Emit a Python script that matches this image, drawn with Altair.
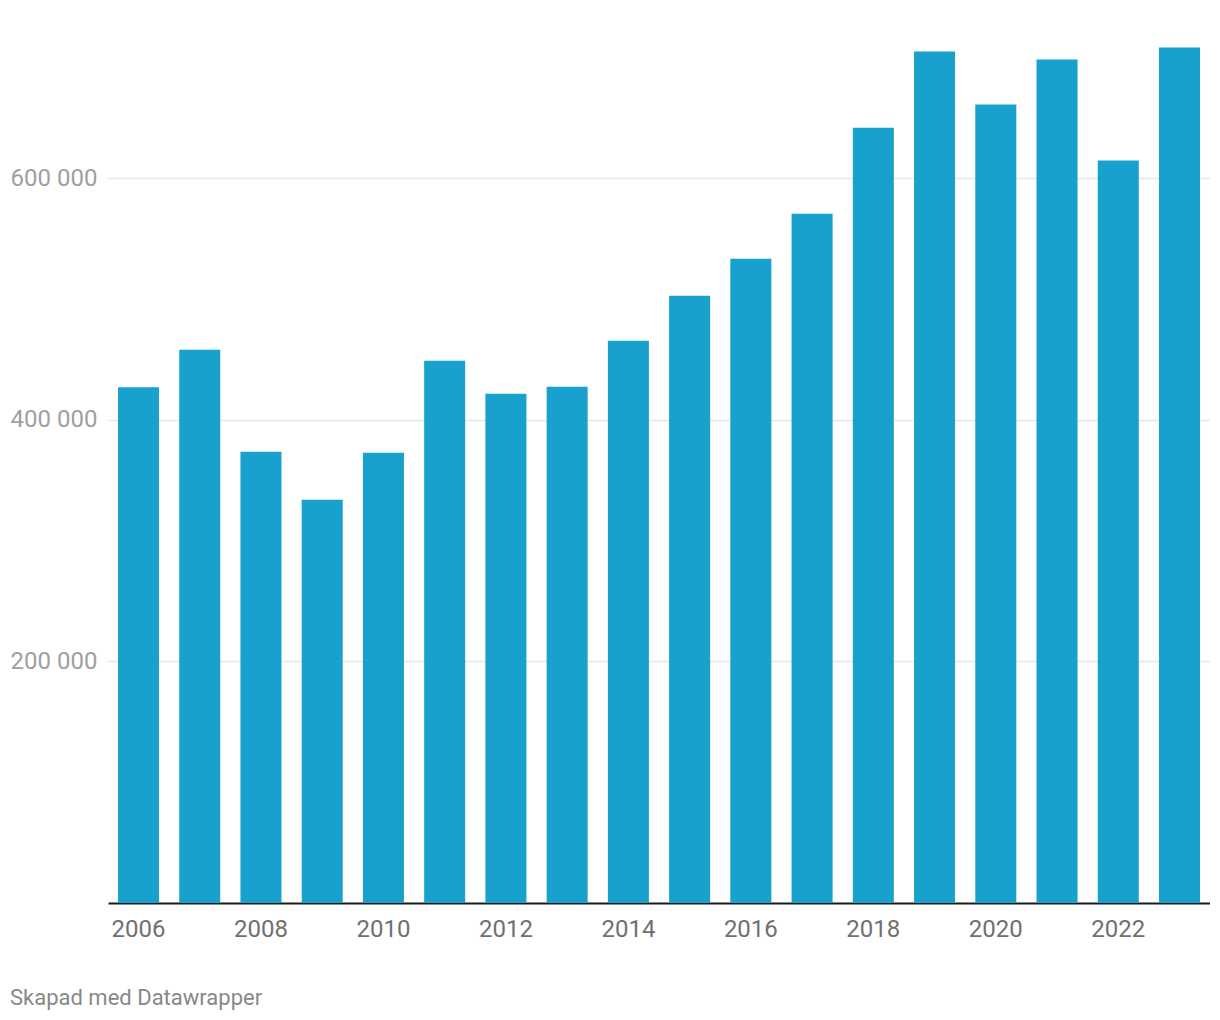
import altair as alt
import pandas as pd

years = list(range(2006, 2024))
values = [427000, 458000, 373500, 333700, 372700, 448900, 421500, 427300, 465400,
          502700, 533300, 570600, 641800, 704800, 660900, 698100, 614500, 708100]
x_ticks = [2006, 2008, 2010, 2012, 2014, 2016, 2018, 2020, 2022]
y_ticks = [200000, 400000, 600000]

df = pd.DataFrame({"year": years, "value": values})

chart = alt.Chart(df).mark_bar(color="#18a1cd").encode(
    x=alt.X("year:O",
            scale=alt.Scale(paddingInner=0.33, paddingOuter=0.163),
            axis=alt.Axis(title=None, values=x_ticks, labelAngle=0, ticks=False,
                          domainColor="#1a1a1a", domainWidth=2, grid=False,
                          labelColor="#707070", labelFontSize=24, labelFont="Roboto",
                          labelPadding=14)),
    y=alt.Y("value:Q",
            scale=alt.Scale(domain=[0, 740000], nice=False),
            axis=alt.Axis(title=None, values=y_ticks, ticks=False, domain=False,
                          grid=True, gridColor="#e6e6e6", gridWidth=1.5,
                          labelAlign="left", labelBaseline="middle", labelPadding=98,
                          labelColor="#a0a0a0", labelFontSize=24, labelFont="Roboto",
                          labelExpr="replace(format(datum.value, ','), ',', ' ')")),
).properties(
    width=1102,
    height=894,
    autosize=alt.AutoSizeParams(type="none"),
    padding={"left": 100, "top": 1, "right": 0, "bottom": 112},
    title=alt.TitleParams("Skapad med Datawrapper", orient="bottom", anchor="start",
                          frame="bounds", font="Roboto", fontSize=22,
                          fontWeight="normal", color="#888888", offset=47),
).configure_view(stroke=None)

chart.save("out.html", embed_options={"renderer": "svg", "actions": False})
